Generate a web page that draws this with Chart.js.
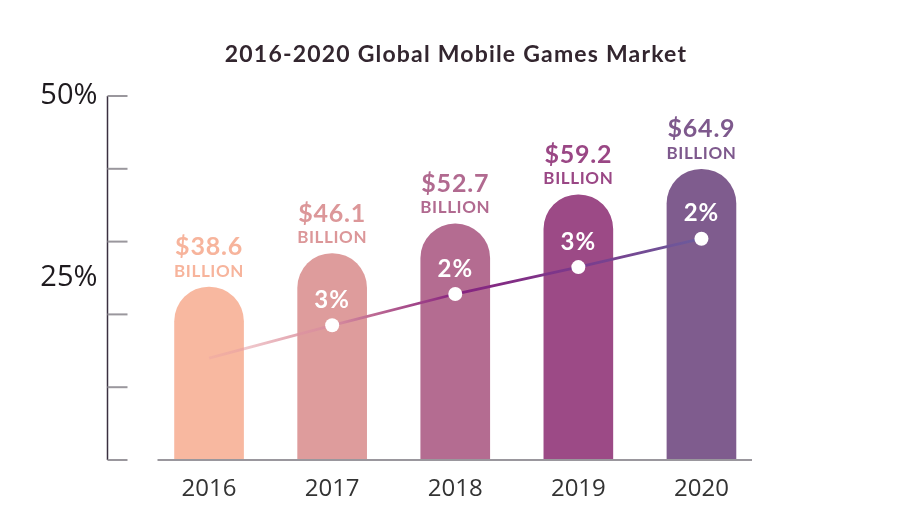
<!DOCTYPE html>
<html>
<head>
<meta charset="utf-8">
<script src="https://cdn.jsdelivr.net/npm/chart.js@4.4.1/dist/chart.umd.min.js"></script>
<style>
html,body{margin:0;padding:0;background:#fff;}
#wrap{width:910px;height:515px;}
</style>
</head>
<body>
<div id="wrap"><canvas id="c" width="910" height="515"></canvas></div>
<script>
const chartTitle = '2016-2020 Global Mobile Games Market';
const categories = ['2016', '2017', '2018', '2019', '2020'];
const marketValues = [38.6, 46.1, 52.7, 59.2, 64.9];
const marketLabels = ['$38.6', '$46.1', '$52.7', '$59.2', '$64.9'];
const unitLabel = 'BILLION';
const growthLine = [14.0, 18.5, 22.8, 26.5, 30.4];
const growthLabels = ['', '3%', '2%', '3%', '2%'];
const yTickLabels = { 25: '25%', 50: '50%' };
const yMin = 0, yMax = 50, yStep = 5, yMarkStep = 10;
const barAxisMax = 81.25;

const barColors = ['#f8b8a0', '#de9c9c', '#b46c91', '#9c4a86', '#7f5c8e'];
const labelColors = ['#f7b49c', '#dc9799', '#b16a90', '#9a4785', '#7e598d'];

function lineGradient(ctx) {
  const chart = ctx.chart;
  const area = chart.chartArea;
  if (!area) return '#86217f';
  const xs = chart.scales.x;
  const x0 = xs.getPixelForValue(0), x4 = xs.getPixelForValue(4);
  const g = chart.ctx.createLinearGradient(x0, 0, x4, 0);
  g.addColorStop(0, 'rgba(232,160,165,0.35)');
  g.addColorStop(0.25, '#d88e9e');
  g.addColorStop(0.5, '#87237f');
  g.addColorStop(0.75, '#7b3a8c');
  g.addColorStop(1, '#6c5c9c');
  return g;
}

const decorPlugin = {
  id: 'decor',
  beforeDraw(chart) {
    const c = chart.ctx;
    c.save();
    c.fillStyle = '#33262f';
    c.font = 'bold 23px Lato';
    c.letterSpacing = '1.2px';
    c.textAlign = 'center';
    c.textBaseline = 'middle';
    c.fillText(chartTitle, 456, 55);
    c.restore();
  },
  afterDraw(chart) {
    const c = chart.ctx;
    const a = chart.chartArea;
    const ys = chart.scales.y;
    const axisX = a.left - 40;
    c.save();
    c.strokeStyle = '#3a3040';
    c.lineWidth = 1.5;
    c.beginPath();
    c.moveTo(axisX, ys.getPixelForValue(yMax));
    c.lineTo(axisX, ys.getPixelForValue(yMin));
    c.stroke();
    c.strokeStyle = '#9a979d';
    c.lineWidth = 2;
    for (let v = yMin; v <= yMax; v += yMarkStep) {
      const y = ys.getPixelForValue(v);
      c.beginPath();
      c.moveTo(axisX, y);
      c.lineTo(axisX + 20, y);
      c.stroke();
    }
    c.beginPath();
    c.moveTo(a.left + 10, ys.getPixelForValue(yMin));
    c.lineTo(a.right - 11, ys.getPixelForValue(yMin));
    c.stroke();
    c.restore();
  },
  afterDatasetsDraw(chart) {
    const c = chart.ctx;
    const barMeta = chart.getDatasetMeta(0);
    const lineMeta = chart.getDatasetMeta(1);
    c.save();
    c.textAlign = 'center';
    c.textBaseline = 'middle';
    barMeta.data.forEach((bar, i) => {
      c.fillStyle = labelColors[i];
      c.letterSpacing = '0.6px';
      c.font = 'bold 17px Lato';
      c.fillText(unitLabel, bar.x, bar.y - 16);
      c.letterSpacing = '0.8px';
      c.font = 'bold 25px Lato';
      c.fillText(marketLabels[i], bar.x, bar.y - 40);
    });
    c.fillStyle = '#ffffff';
    c.letterSpacing = '1px';
    c.font = 'bold 24px Lato';
    lineMeta.data.forEach((pt, i) => {
      if (growthLabels[i]) c.fillText(growthLabels[i], pt.x, pt.y - 25);
    });
    c.restore();
  }
};

new Chart(document.getElementById('c'), {
  data: {
    labels: categories,
    datasets: [
      {
        type: 'bar',
        data: marketValues,
        yAxisID: 'yBar',
        backgroundColor: barColors,
        barThickness: 69,
        borderRadius: { topLeft: 35, topRight: 35, bottomLeft: 0, bottomRight: 0 },
        borderSkipped: 'bottom',
        order: 2
      },
      {
        type: 'line',
        data: growthLine,
        yAxisID: 'y',
        borderColor: lineGradient,
        borderWidth: 2.8,
        tension: 0,
        pointRadius: [0, 7, 7, 7, 7],
        pointBackgroundColor: '#ffffff',
        pointBorderWidth: 0,
        order: 1
      }
    ]
  },
  options: {
    responsive: false,
    animation: false,
    layout: { padding: { left: 0, right: 147, top: 96, bottom: 0 } },
    plugins: { legend: { display: false }, tooltip: { enabled: false }, title: { display: false } },
    scales: {
      x: {
        offset: true,
        afterFit(s) { s.height = 55; },
        grid: { display: false, drawTicks: false },
        border: { display: false },
        ticks: { font: { family: 'Open Sans', size: 24 }, color: '#333333', padding: 15, maxRotation: 0 }
      },
      y: {
        position: 'left',
        min: yMin, max: yMax,
        afterFit(s) { s.width = 147.5; },
        grid: { display: false, drawTicks: false },
        border: { display: false },
        ticks: {
          stepSize: yStep,
          autoSkip: false,
          padding: 50,
          font: { family: 'Open Sans', size: 29, lineHeight: 0.3 },
          color: '#1e1a1e',
          callback: (v) => yTickLabels[v] || ''
        }
      },
      yBar: {
        display: false,
        min: 0, max: barAxisMax
      }
    }
  },
  plugins: [decorPlugin]
});
</script>
</body>
</html>
